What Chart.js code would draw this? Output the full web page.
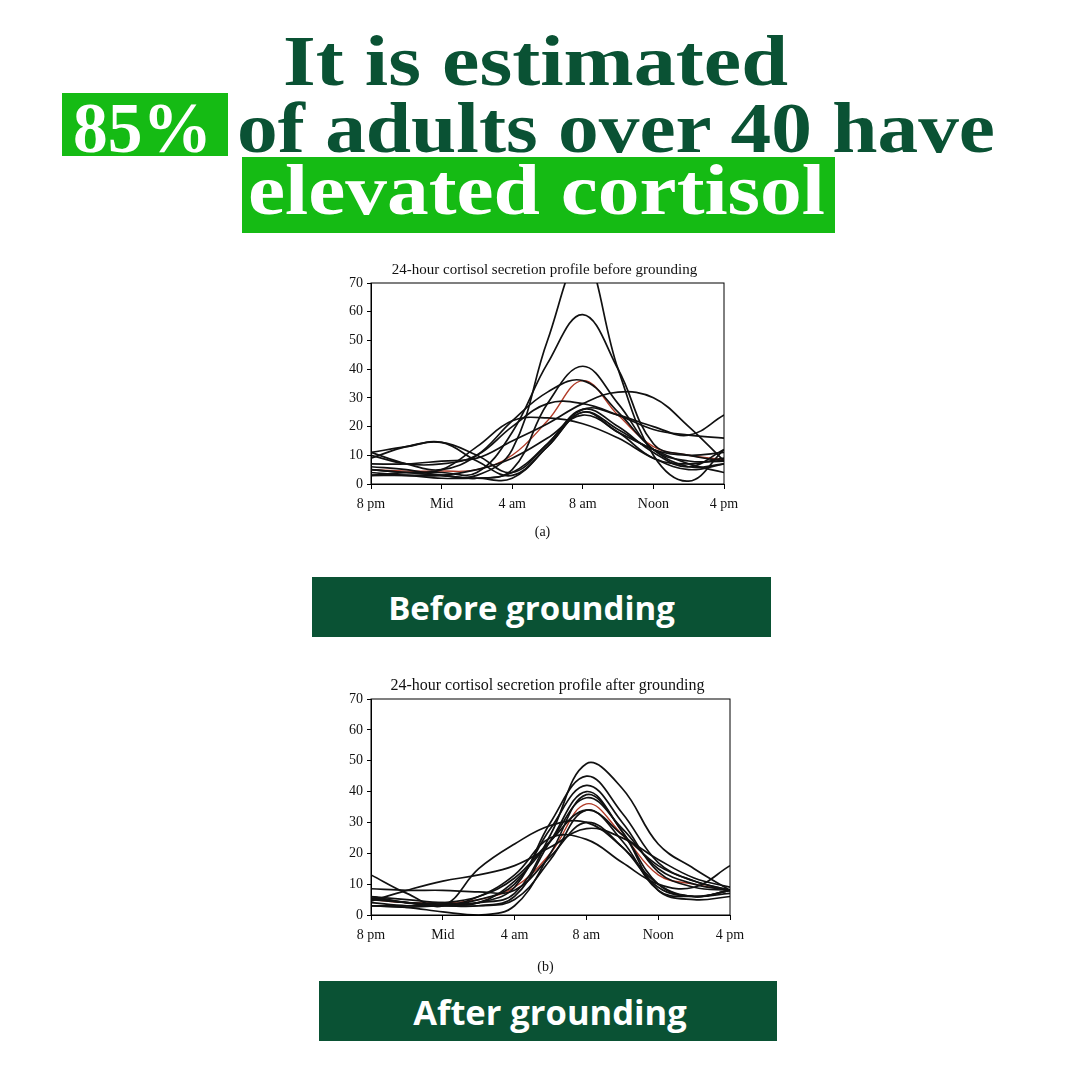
<!DOCTYPE html>
<html>
<head>
<meta charset="utf-8">
<script src="https://cdn.jsdelivr.net/npm/chart.js@4.4.1/dist/chart.umd.min.js"></script>
<style>
  html, body { margin:0; padding:0; background:#fff; }
  #page { position:relative; width:1080px; height:1080px; overflow:hidden; background:#fff; }
  .hl { position:absolute; font-family:"Liberation Serif", "DejaVu Serif", serif; font-weight:bold; font-size:72px; line-height:72px; white-space:nowrap; transform-origin:0 0; }
  .box { position:absolute; background:#15bb14; }
  .lab { position:absolute; background:#0a5234; color:#fff; font-family:"Open Sans", sans-serif; font-weight:bold; font-size:33px; display:flex; align-items:center; justify-content:center; box-sizing:border-box; }
  canvas { position:absolute; }
</style>
</head>
<body>
<div id="page">
  <div class="box" style="left:62px;top:93px;width:166px;height:63px;"></div>
  <div class="box" style="left:242px;top:157px;width:593px;height:76px;"></div>
  <div class="hl" data-w="505" style="left:283px;top:25px;color:#0a5234;">It is estimated</div>
  <div class="hl" data-w="139" style="left:73px;top:92px;color:#fff;">85%</div>
  <div class="hl" data-w="758" style="left:237px;top:92px;color:#0a5234;">of adults over 40 have</div>
  <div class="hl" data-w="577" style="left:248px;top:154px;color:#fff;">elevated cortisol</div>

  <div style="position:absolute;left:330px;top:258px;width:420px;height:290px;"><canvas id="chartA"></canvas></div>
  <div class="lab" style="left:312px;top:577px;width:459px;height:60px;padding-right:20px;">Before grounding</div>
  <div style="position:absolute;left:330px;top:674px;width:430px;height:300px;"><canvas id="chartB"></canvas></div>
  <div class="lab" style="left:319px;top:981px;width:458px;height:60px;padding-left:4px;font-size:34.5px;">After grounding</div>
</div>
<script>
// ---- data ----
const hours = [0, 2, 4, 6, 8, 10, 12, 14, 16, 18, 20]; // hours after 8 pm
const tickLabels = ['8 pm', 'Mid', '4 am', '8 am', 'Noon', '4 pm'];

// Before grounding (a)
const a1  = [5, 4, 3, 3, 12, 50, 80, 40, 10, 1, 12];
const a2  = [5, 4, 4, 4, 18, 42, 59, 40, 14, 10, 8];
const a3  = [3, 3, 3, 2, 5, 28, 41, 28, 12, 8, 8];
const a5  = [11, 7, 5, 10, 22, 32, 36, 25, 12, 6, 7];
const a6  = [7, 7, 8, 9, 15, 21, 28, 32, 30, 20, 8];
const a7  = [10, 7, 7, 10, 20, 28, 28, 24, 19, 17, 16];
const a8  = [9, 13, 14.5, 10, 4, 14, 26, 24, 20, 17, 24];
const a9  = [11, 13, 14.5, 8, 3, 13, 25, 18, 12, 7, 4];
const a10 = [3, 4, 5, 13, 22, 23, 21, 16, 9, 5, 7];
const a11 = [3, 3, 2, 2, 2, 13, 25, 19, 12, 10, 11];
const a12 = [6, 5, 3, 2, 4, 14, 26, 20, 11, 6, 12];
const a13 = [4, 3, 3, 5, 9, 16, 24, 18, 9, 7, 9];
const aMean = [5, 4.5, 4.5, 5, 10, 22, 36, 24, 13, 10, 8.5];

// After grounding (b)
const b1  = [3, 3, 3.5, 4, 7, 26, 49, 41, 23, 15, 8];
const b2  = [5, 4, 3, 4, 9, 30, 45, 33, 17, 11, 8];
const b3  = [6, 4, 3.5, 5, 10, 28, 42, 30, 14, 9, 8];
const b4  = [4, 3, 3, 3, 6, 24, 40, 27, 10, 6, 8];
const b5  = [3, 2.5, 1, 0, 3, 20, 39, 27, 8, 5, 6];
const b7  = [6, 5, 4, 4, 11, 24, 38, 28, 15, 10, 8];
const b8  = [5.5, 4, 4, 6, 12, 24, 34, 26, 16, 11, 8];
const b9  = [8.5, 8, 8, 7.5, 8, 19, 30, 22, 9, 6, 8];
const b10 = [4.5, 8, 11, 13, 16, 22, 28, 25, 18, 12, 9];
const b11 = [13, 7, 3, 15, 23, 29, 30, 22, 10, 6, 8];
const b12 = [6, 4, 3, 6, 13, 25, 24.5, 17, 10, 9, 16];
const b13 = [3, 2.5, 3, 3, 5, 18, 34, 24, 8, 6, 7];
const bMean = [5, 4, 4, 5, 9, 20, 36, 26, 13, 10, 8];

const beforeSeries = [a1, a2, a3, a5, a6, a7, a8, a9, a10, a11, a12, a13];
const afterSeries  = [b1, b2, b3, b4, b5, b7, b8, b9, b10, b11, b12, b13];

// ---- headline fitting ----
document.querySelectorAll('.hl').forEach(el => {
  const w = el.getBoundingClientRect().width;
  const target = +el.dataset.w;
  el.style.transform = 'scaleX(' + (target / w) + ')';
});

// ---- charts ----
const FONT = '"Liberation Serif", "DejaVu Serif", serif';

const framePlugin = {
  id: 'frame',
  afterDatasetsDraw(chart, args, opts) {
    const { ctx, chartArea: a } = chart;
    ctx.save();
    ctx.strokeStyle = '#000';
    ctx.lineWidth = 1;
    ctx.strokeRect(a.left, a.top, a.right - a.left, a.bottom - a.top);
    ctx.fillStyle = '#111';
    ctx.textAlign = 'center';
    ctx.textBaseline = 'alphabetic';
    ctx.font = opts.titleSize + 'px ' + FONT;
    ctx.fillText(opts.title, (a.left + a.right) / 2 - 3, a.top - 9);
    ctx.font = opts.size + 'px ' + FONT;
    ctx.fillText(opts.sub, (a.left + a.right) / 2 - 5, a.bottom + opts.subOffset);
    ctx.restore();
  }
};

function makeChart(id, series, mean, cfg) {
  const datasets = series.map(s => ({
    data: hours.map((h, i) => ({ x: h, y: s[i] })),
    borderColor: '#111',
    borderWidth: 1.7,
    pointRadius: 0,
    tension: 0.4,
    fill: false
  }));
  datasets.push({
    data: hours.map((h, i) => ({ x: h, y: mean[i] })),
    borderColor: '#b13a26',
    borderWidth: 1.4,
    pointRadius: 0,
    tension: 0.4,
    fill: false
  });
  return new Chart(document.getElementById(id), {
    type: 'line',
    data: { datasets },
    options: {
      responsive: true,
      maintainAspectRatio: false,
      animation: false,
      events: [],
      layout: { padding: { top: 25, right: cfg.right, left: 0, bottom: 0 } },
      plugins: {
        legend: { display: false },
        tooltip: { enabled: false },
        frame: { title: cfg.title, sub: cfg.sub, subOffset: cfg.subOffset, size: cfg.fs, titleSize: cfg.ts }
      },
      scales: {
        x: {
          type: 'linear', min: 0, max: 20,
          afterFit: s => { s.height = cfg.xh; },
          afterBuildTicks: s => { s.ticks = [0, 4, 8, 12, 16, 20].map(v => ({ value: v })); },
          ticks: {
            callback: v => tickLabels[v / 4],
            color: '#111', font: { family: FONT, size: cfg.fs }, padding: 7,
            maxRotation: 0, autoSkip: false
          },
          grid: { drawOnChartArea: false, color: '#000', tickLength: 5 },
          border: { display: true, color: '#000', width: 1 }
        },
        y: {
          min: 0, max: 70,
          afterFit: s => { s.width = 41; },
          ticks: { stepSize: 10, color: '#111', font: { family: FONT, size: cfg.fs }, padding: 4 },
          grid: { drawOnChartArea: false, color: '#000', tickLength: 4 },
          border: { display: true, color: '#000', width: 1 }
        }
      }
    },
    plugins: [framePlugin]
  });
}

makeChart('chartA', beforeSeries, aMean, {
  title: '24-hour cortisol secretion profile before grounding', sub: '(a)',
  right: 26, xh: 64, subOffset: 52, fs: 14, ts: 15
});
makeChart('chartB', afterSeries, bMean, {
  title: '24-hour cortisol secretion profile after grounding', sub: '(b)',
  right: 30, xh: 59, subOffset: 56, fs: 14, ts: 16
});
</script>
</body>
</html>
